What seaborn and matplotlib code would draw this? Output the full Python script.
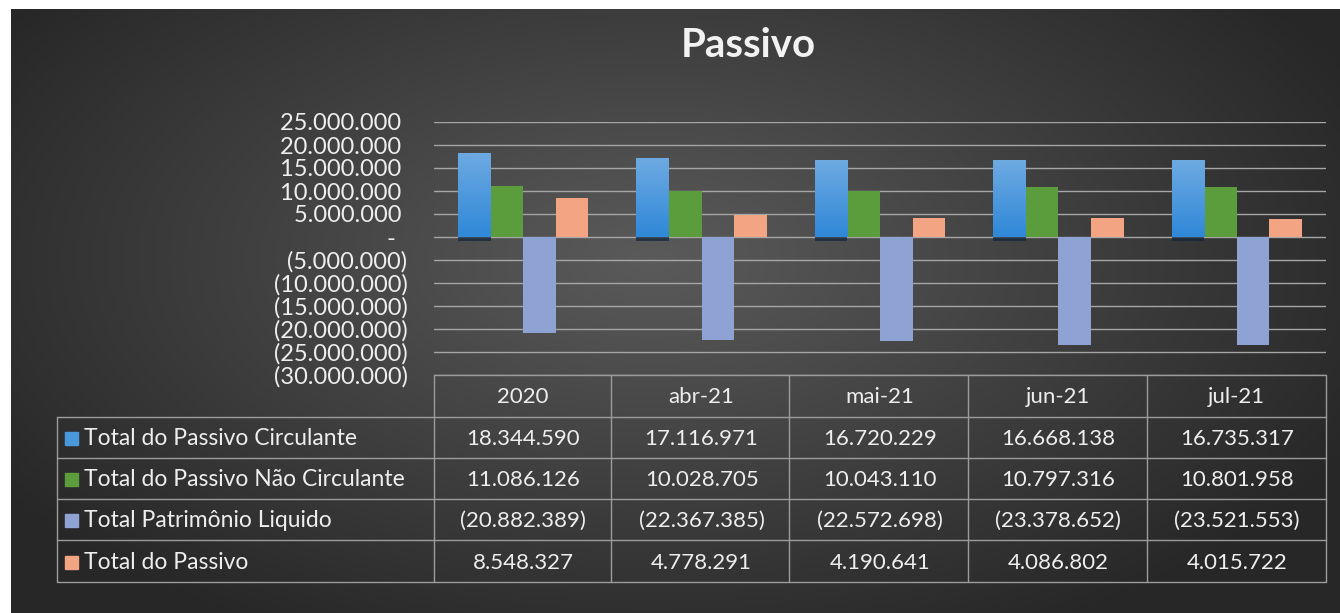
import numpy as np
import pandas as pd
import matplotlib
matplotlib.use("Agg")
import matplotlib.pyplot as plt
import matplotlib.patheffects as pe
import matplotlib.transforms as mtransforms
from matplotlib.patches import Rectangle
import seaborn as sns

# dados do grafico
periodos = ["2020", "abr-21", "mai-21", "jun-21", "jul-21"]
series = ["Total do Passivo Circulante", "Total do Passivo Não Circulante",
          "Total Patrimônio Liquido", "Total do Passivo"]
passivo_circulante = [18344590, 17116971, 16720229, 16668138, 16735317]
passivo_nao_circulante = [11086126, 10028705, 10043110, 10797316, 10801958]
patrimonio_liquido = [-20882389, -22367385, -22572698, -23378652, -23521553]
total_passivo = [8548327, 4778291, 4190641, 4086802, 4015722]
cores = ["#4a98dc", "#5b9c3c", "#8fa2d4", "#f2a483"]
yticks = list(range(-30000000, 25000001, 5000000))

valores = [passivo_circulante, passivo_nao_circulante, patrimonio_liquido, total_passivo]
df = pd.DataFrame({
    "periodo": np.repeat([periodos], 4, axis=0).ravel(),
    "serie": np.repeat(series, 5),
    "valor": np.concatenate(valores),
})


def fmt(v):
    s = f"{abs(v):,.0f}".replace(",", ".")
    if v < 0:
        return "(" + s + ")"
    if v == 0:
        return "-  "
    return s + " "


sns.set_style("dark")
plt.rcParams["font.family"] = ["Lato", "DejaVu Sans"]

W, H = 1340, 613
fig = plt.figure(figsize=(W / 100, H / 100), dpi=100)
fig.patch.set_facecolor("white")

# fundo com gradiente radial
bg = fig.add_axes([11 / W, 0, 1 - 11 / W, 1 - 9 / H])
yy, xx = np.mgrid[0:H - 9, 0:W - 11]
d = np.sqrt(((xx - 640) / 780) ** 2 + ((yy - 250) / 420) ** 2)
shade = np.clip(0.355 - 0.2 * d, 0.155, 0.36)
bg.imshow(np.dstack([shade, shade, shade]), aspect="auto", interpolation="bilinear")
bg.axis("off")

# area do grafico
ax = fig.add_axes([434 / W, (H - 375) / H, (1326 - 434) / W, (375 - 122) / H])
ax.patch.set_alpha(0)
sns.barplot(data=df, x="periodo", y="valor", hue="serie", palette=cores,
            width=0.73, saturation=1, legend=False, ax=ax, zorder=3,
            edgecolor="none", linewidth=0)
ax.set_xlim(-0.5, 4.5)
ax.set_ylim(-30000000, 25000000)
ax.set_yticks(yticks)
ax.set_yticklabels([fmt(v) for v in yticks])
ax.tick_params(axis="y", colors="#eeeeee", labelsize=17, length=0, pad=19)
ax.tick_params(axis="x", bottom=False, labelbottom=False)
ax.set_xlabel("")
ax.set_ylabel("")
ax.grid(axis="y", color="#a6a6a6", lw=1)
ax.set_axisbelow(True)
for s in ax.spines.values():
    s.set_visible(False)

# gradiente nas barras azuis
grad = np.linspace(0, 1, 100).reshape(-1, 1)
blue_cmap = matplotlib.colors.LinearSegmentedColormap.from_list("b", ["#2f88d8", "#6eaae2"])
for p in ax.patches[:5]:
    x0, y0 = p.get_x(), p.get_y()
    w, h = p.get_width(), p.get_height()
    p.set_path_effects([pe.SimplePatchShadow(offset=(0, -3), shadow_rgbFace="#10243a", alpha=0.7),
                        pe.Normal()])
    im = ax.imshow(grad, cmap=blue_cmap, extent=[x0, x0 + w, y0, y0 + h],
                   aspect="auto", origin="lower", zorder=4)
    im.set_clip_path(p)
ax.set_xlim(-0.5, 4.5)
ax.set_ylim(-30000000, 25000000)

fig.text(748 / W, 1 - 57 / H, "Passivo", ha="center", va="baseline",
         fontsize=29, fontweight="bold", color="#f2f2f2")

# tabela de dados
tab = fig.add_axes([0, 0, 1, 1])
tab.set_xlim(0, W)
tab.set_ylim(H, 0)
tab.axis("off")
tab.patch.set_alpha(0)
lc = "#9c9c9c"
rows = [417, 458, 499, 540, 582]
cols = [434, 611, 789, 968, 1147, 1326]
tab.plot([434, 1326], [375, 375], color=lc, lw=1)
for y in rows:
    tab.plot([57, 1326], [y, y], color=lc, lw=1)
tab.plot([57, 57], [417, 582], color=lc, lw=1)
for x in cols:
    tab.plot([x, x], [375, 582], color=lc, lw=1)

trans = mtransforms.blended_transform_factory(ax.transData, tab.transData)
for i, per in enumerate(periodos):
    tab.text(i, 403, per, transform=trans, ha="center", va="baseline",
             fontsize=16, color="#eeeeee")
for r, (nome, vals, cor) in enumerate(zip(series, valores, cores)):
    yb = rows[r + 1] - 13
    tab.add_patch(Rectangle((65, yb - 13), 13, 13, color=cor))
    tab.text(84, yb, nome, ha="left", va="baseline", fontsize=16.5, color="#eeeeee")
    for i, v in enumerate(vals):
        tab.text(i, yb, fmt(v).strip(), transform=trans, ha="center", va="baseline",
                 fontsize=16, color="#eeeeee")

fig.savefig("out.png", dpi=100, facecolor=fig.get_facecolor())
